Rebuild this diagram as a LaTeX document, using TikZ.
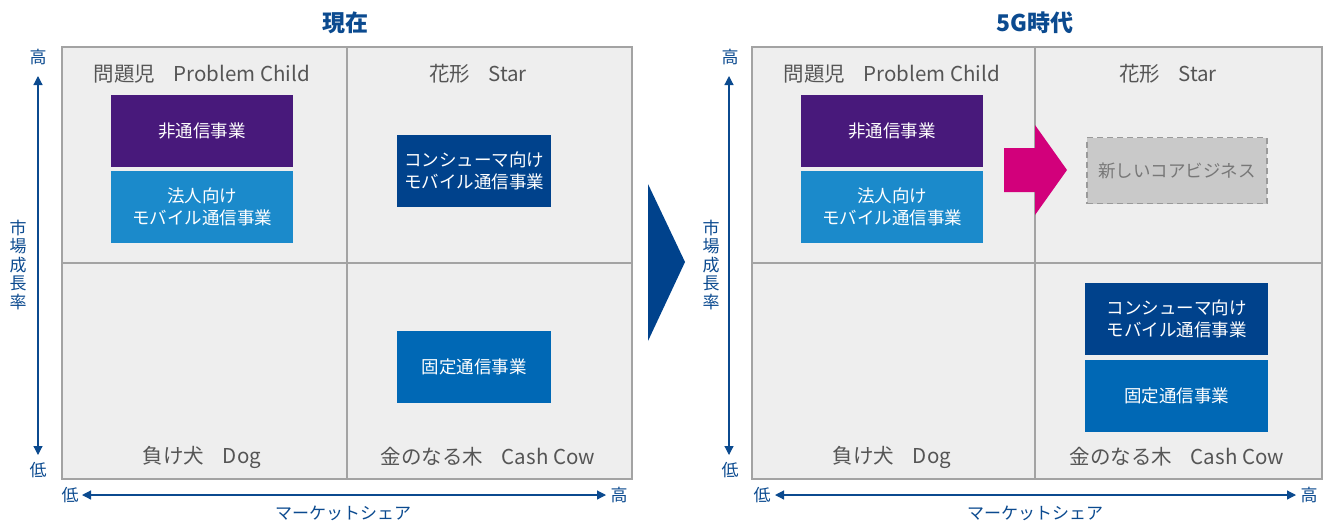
\documentclass[tikz,border=0pt]{standalone}
\usepackage{fontspec}
\setmainfont{Noto Sans CJK JP}
\usetikzlibrary{arrows.meta}
\definecolor{navy}{HTML}{0B4A8F}
\definecolor{panelfill}{HTML}{EEEEEE}
\definecolor{panelline}{HTML}{A3A3A3}
\definecolor{qtext}{HTML}{555555}
\definecolor{purp}{HTML}{48197B}
\definecolor{lblue}{HTML}{1B8ACB}
\definecolor{dblue}{HTML}{00428C}
\definecolor{mblue}{HTML}{0068B5}
\definecolor{pink}{HTML}{D2007B}
\definecolor{newfill}{HTML}{C9C9C9}
\definecolor{newline}{HTML}{9A9A9A}
\tikzset{
  panel/.style={draw=panelline, fill=panelfill, line width=1.3pt},
  divider/.style={draw=panelline, line width=1.3pt},
  qlabel/.style={text=qtext, font=\fontsize{20.5}{24}\selectfont, inner sep=0pt},
  biz/.style={text=white, font=\fontsize{17.5}{22.5}\selectfont, align=center, inner sep=0pt, minimum width=182pt, minimum height=72pt},
  title/.style={text=navy, font=\bfseries\fontsize{23}{26}\selectfont, inner sep=0pt},
  axislabel/.style={text=navy, font=\fontsize{17}{19}\selectfont, inner sep=0pt},
  axis/.style={draw=navy, line width=1.2pt, {Triangle[length=9pt,width=9pt]}-{Triangle[length=9pt,width=9pt]}},
}
\begin{document}
\begin{tikzpicture}[x=1pt,y=-1pt]
\useasboundingbox (0,0) rectangle (1325,520);
% ---------- left panel ----------
\node[title] (t1) at (345,23) {現在};
\draw[panel] (62,47) rectangle (632,479);
\draw[divider] (347,47) -- (347,479);
\draw[divider] (62,263) -- (632,263);
\node[qlabel] (q1a) at (202,74) {問題児\hspace{0.9em}Problem Child};
\node[qlabel] (q1b) at (478,74) {花形\hspace{0.9em}Star};
\node[qlabel] (q1c) at (202,457) {負け犬\hspace{0.9em}Dog};
\node[qlabel] (q1d) at (488,457) {金のなる木\hspace{0.9em}Cash Cow};
\node[biz, fill=purp] (b1a) at (202,131) {非通信事業};
\node[biz, fill=lblue] (b1b) at (202,207) {法人向け\\モバイル通信事業};
\node[biz, fill=dblue, minimum width=154pt] (b1c) at (474,171) {コンシューマ向け\\モバイル通信事業};
\node[biz, fill=mblue, minimum width=154pt] (b1d) at (474,367) {固定通信事業};
% axes
\node[axislabel] (h1) at (38,57) {高};
\node[axislabel] (l1) at (38,470) {低};
\coordinate (v1t) at (38,76);
\coordinate (v1b) at (38,455);
\draw[axis] (v1t) -- (v1b);
\node[axislabel, align=center, font=\fontsize{17}{18.5}\selectfont] (y1) at (18,265) {市\\場\\成\\長\\率};
\node[axislabel] (xl1) at (70,495) {低};
\node[axislabel] (xh1) at (619,495) {高};
\coordinate (h1l) at (82,495);
\coordinate (h1r) at (606,495);
\draw[axis] (h1l) -- (h1r);
\node[axislabel] (x1) at (343,513) {マーケットシェア};
% ---------- big arrow ----------
\coordinate (ba1) at (648,184);
\coordinate (ba2) at (685,262);
\coordinate (ba3) at (648,341);
\fill[dblue] (ba1) -- (ba2) -- (ba3) -- cycle;
% ---------- right panel ----------
\node[title] (t2) at (1035,23) {5G時代};
\draw[panel] (752,47) rectangle (1322,479);
\draw[divider] (1035,47) -- (1035,479);
\draw[divider] (752,263) -- (1322,263);
\node[qlabel] (q2a) at (892,74) {問題児\hspace{0.9em}Problem Child};
\node[qlabel] (q2b) at (1168,74) {花形\hspace{0.9em}Star};
\node[qlabel] (q2c) at (892,457) {負け犬\hspace{0.9em}Dog};
\node[qlabel] (q2d) at (1177,457) {金のなる木\hspace{0.9em}Cash Cow};
\node[biz, fill=purp] (b2a) at (892,131) {非通信事業};
\node[biz, fill=lblue] (b2b) at (892,207) {法人向け\\モバイル通信事業};
\node[biz, fill=newfill, draw=newline, dashed, dash pattern=on 6pt off 4pt, line width=1.5pt, text=qtext!80, minimum width=180pt, minimum height=66pt] (b2n) at (1177,170.5) {新しいコアビジネス};
\node[biz, fill=dblue, minimum width=183pt] (b2c) at (1176.5,319) {コンシューマ向け\\モバイル通信事業};
\node[biz, fill=mblue, minimum width=183pt] (b2d) at (1176.5,396) {固定通信事業};
% pink arrow
\fill[pink] (1004,148) -- (1035,148) -- (1035,125) -- (1067,170) -- (1035,215) -- (1035,192) -- (1004,192) -- cycle;
% axes
\node[axislabel] (h2) at (730,57) {高};
\node[axislabel] (l2) at (730,470) {低};
\coordinate (v2t) at (729,76);
\coordinate (v2b) at (729,455);
\draw[axis] (v2t) -- (v2b);
\node[axislabel, align=center, font=\fontsize{17}{18.5}\selectfont] (y2) at (711,265) {市\\場\\成\\長\\率};
\node[axislabel] (xl2) at (762,495) {低};
\node[axislabel] (xh2) at (1309,495) {高};
\coordinate (h2l) at (775,495);
\coordinate (h2r) at (1296,495);
\draw[axis] (h2l) -- (h2r);
\node[axislabel] (x2) at (1035,513) {マーケットシェア};
\end{tikzpicture}
\end{document}
